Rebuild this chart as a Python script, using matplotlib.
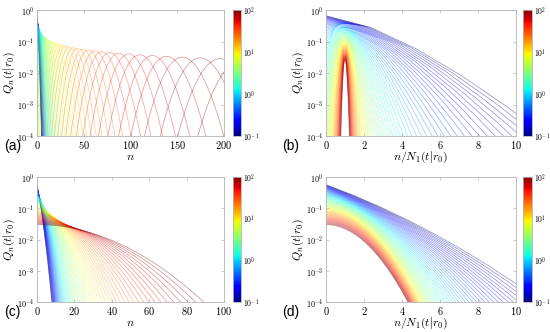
"""
Q_n(t|r0) curve families, four panels with jet colour bars (t = 0.1 .. 100).
Saves out.png.
"""

import math
import numpy as np
import matplotlib
matplotlib.use("Agg")
import matplotlib.pyplot as plt
from matplotlib.colors import LogNorm
from matplotlib.cm import ScalarMappable

plt.rcParams["mathtext.fontset"] = "cm"

# colour = time, 61 curves log spaced from 0.1 to 100
t_values = np.logspace(-1, 2, 61)
cbar_ticks = [0.1, 1, 10, 100]
cbar_labels = [r"$10^{-1}$", r"$10^{0}$", r"$10^{1}$", r"$10^{2}$"]
y_ticks = [1e-4, 1e-3, 1e-2, 1e-1, 1]
y_labels = [r"$10^{-4}$", r"$10^{-3}$", r"$10^{-2}$", r"$10^{-1}$", r"$10^{0}$"]

# (a)/(b): mean count grows linearly in t
mean_slope = 2.2
mean_offset = 0.2
n_ab = np.arange(0, 500)

# (c)/(d): scale grows ~ t^0.47, geometric at short t, half-gaussian at long t
scale_c = 2.38
scale_beta = 0.473
tau_mix = 1.0
n_cd = np.arange(0, 400)

lgam = np.vectorize(math.lgamma)


def family_ab(t):
    mu = mean_slope * t + mean_offset
    q = np.exp(-mu + n_ab * np.log(mu) - lgam(n_ab + 1.0))
    return q, mu


def family_cd(t):
    m = scale_c * t ** scale_beta
    w = t / (t + tau_mix)
    a = (1 - w) * np.log((1 + m) / m)
    b = w / (np.pi * m ** 2)
    q = np.exp(-a * n_cd - b * n_cd ** 2)
    q = q / q.sum()
    return q, (n_cd * q).sum()


norm = LogNorm(vmin=0.1, vmax=100)
cmap = plt.get_cmap("jet")

fig = plt.figure(figsize=(5.5, 3.32), dpi=100)

W, H = 550.0, 332.0
boxes = {
    "a": (37, 10, 187, 126, 233, 8),
    "b": (326, 10, 190, 126, 523, 9),
    "c": (37, 177, 187, 125, 233, 8),
    "d": (326, 177, 190, 125, 523, 9),
}
frame = "#b4b4b4"


def style_axes(ax, xmax, xticks, xlabel):
    ax.set_yscale("log")
    ax.set_ylim(1e-4, 1)
    ax.set_xlim(0, xmax)
    ax.set_yticks(y_ticks)
    ax.set_yticklabels(y_labels, fontsize=5.8)
    ax.minorticks_off()
    ax.set_xticks(xticks)
    ax.set_xticklabels([r"$%d$" % v for v in xticks], fontsize=7.5)
    ax.tick_params(direction="in", length=2, width=0.5, color=frame,
                   top=True, right=True, pad=2)
    for s in ax.spines.values():
        s.set_color(frame)
        s.set_linewidth(0.6)
    ax.set_xlabel(xlabel, fontsize=8.5, labelpad=-0.5)
    ax.set_ylabel(r"$Q_n(t|r_0)$", fontsize=8.5, labelpad=0)


axes = {}
for key, (x0, y0, w, h, cx, cw) in boxes.items():
    ax = fig.add_axes([x0 / W, 1 - (y0 + h) / H, w / W, h / H])
    cax = fig.add_axes([cx / W, 1 - (y0 + h) / H, cw / W, h / H])
    cb = fig.colorbar(ScalarMappable(norm=norm, cmap=cmap), cax=cax)
    cb.set_ticks(cbar_ticks)
    cb.set_ticklabels(cbar_labels)
    cb.ax.minorticks_off()
    cb.ax.tick_params(labelsize=5.5, length=0, pad=1.5)
    cb.outline.set_edgecolor(frame)
    cb.outline.set_linewidth(0.6)
    axes[key] = ax

for t in t_values:
    col = cmap(norm(t))
    q, mu = family_ab(t)
    axes["a"].plot(n_ab, q, color=col, lw=0.5, alpha=0.45)
    axes["b"].plot(n_ab / mu, q, color=col, lw=0.5, alpha=0.45)
    q, n1 = family_cd(t)
    axes["c"].plot(n_cd, q, color=col, lw=0.5, alpha=0.45)
    axes["d"].plot(n_cd / n1, q, color=col, lw=0.5, alpha=0.45)

style_axes(axes["a"], 200, [0, 50, 100, 150, 200], r"$n$")
style_axes(axes["b"], 10, [0, 2, 4, 6, 8, 10], r"$n/N_1(t|r_0)$")
style_axes(axes["c"], 100, [0, 20, 40, 60, 80, 100], r"$n$")
style_axes(axes["d"], 10, [0, 2, 4, 6, 8, 10], r"$n/N_1(t|r_0)$")

for lab, x, y in [("(a)", 4, 146), ("(b)", 282, 146), ("(c)", 4, 312), ("(d)", 282, 312)]:
    fig.text(x / W, 1 - y / H, lab, fontsize=10, family="Liberation Sans",
             va="center", ha="left")

fig.savefig("out.png", dpi=100)
